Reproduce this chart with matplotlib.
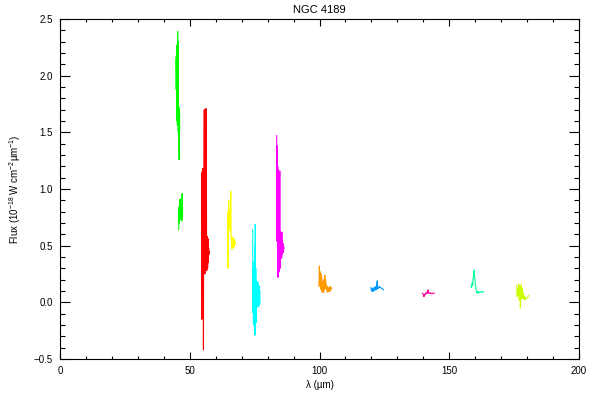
import matplotlib
matplotlib.use("Agg")
import matplotlib.pyplot as plt
from matplotlib.ticker import MultipleLocator

plt.rcParams['font.family'] = ['Liberation Sans', 'DejaVu Sans']
plt.rcParams['mathtext.default'] = 'regular'

# spectral segments (wavelength in micron, flux)
green_a_wl = [44.70, 44.78, 44.86, 44.94, 45.02, 45.10, 45.18, 45.26, 45.34, 45.42,
              45.50, 45.58, 45.66, 45.74, 45.82, 45.90, 45.98, 46.06, 46.14]
green_a_fx = [2.17, 1.88, 2.15, 1.90, 2.27, 1.60, 2.20, 1.56, 2.39, 1.62,
              2.30, 1.50, 1.74, 1.48, 1.72, 1.26, 1.70, 1.52, 1.66]

green_b_wl = [45.75, 45.85, 45.95, 46.05, 46.15, 46.25, 46.35, 46.45, 46.55, 46.65,
              46.75, 46.85, 46.95, 47.05, 47.15, 47.25]
green_b_fx = [0.64, 0.84, 0.70, 0.86, 0.74, 0.91, 0.76, 0.84, 0.73, 0.80,
              0.75, 0.82, 0.72, 0.96, 0.74, 0.82]

red_wl = [54.58, 54.65, 54.72, 54.80, 54.88, 54.96, 55.04, 55.12, 55.20, 55.28,
          55.36, 55.44, 55.52, 55.60, 55.68, 55.76, 55.84, 55.92, 56.00, 56.08,
          56.16, 56.24, 56.32, 56.40, 56.48, 56.56, 56.64, 56.72, 56.80, 56.88,
          56.96, 57.04, 57.12, 57.20, 57.28, 57.36, 57.44, 57.52]
red_fx = [1.14, -0.15, 1.12, 0.05, 1.16, 0.10, 1.18, 0.04, 1.15, -0.42,
          1.10, 0.30, 1.20, 1.70, 0.60, 1.50, 0.25, 1.22, 0.40, 1.40,
          0.50, 1.71, 0.30, 1.22, 0.55, 0.28, 0.52, 0.32, 0.58, 0.30,
          0.50, 0.35, 0.56, 0.40, 0.48, 0.42, 0.45, 0.44]

yellow_wl = [64.60, 64.70, 64.80, 64.90, 65.00, 65.10, 65.20, 65.30, 65.40, 65.50,
             65.60, 65.70, 65.80, 65.90, 66.00, 66.10, 66.20, 66.30, 66.40, 66.50,
             66.60, 66.70, 66.80, 66.90, 67.00, 67.10, 67.20, 67.30, 67.40, 67.50]
yellow_fx = [0.80, 0.30, 0.78, 0.66, 0.90, 0.64, 0.80, 0.66, 0.82, 0.70,
             0.78, 0.62, 0.98, 0.60, 0.56, 0.50, 0.58, 0.47, 0.55, 0.50,
             0.57, 0.48, 0.54, 0.50, 0.56, 0.49, 0.55, 0.51, 0.54, 0.52]

cyan_wl = [74.25, 74.35, 74.45, 74.55, 74.65, 74.75, 74.85, 74.95, 75.05, 75.15,
           75.25, 75.35, 75.45, 75.55, 75.65, 75.75, 75.85, 75.95, 76.05, 76.15,
           76.25, 76.35, 76.45, 76.55, 76.65, 76.75, 76.85, 76.95, 77.05]
cyan_fx = [0.64, -0.09, 0.30, -0.18, 0.34, -0.20, 0.36, -0.25, 0.50, -0.29,
           0.69, -0.10, 0.30, -0.18, 0.20, -0.05, 0.18, -0.04, 0.16, -0.02,
           0.18, -0.03, 0.12, -0.04, 0.15, 0.00, 0.14, -0.02, 0.10]

magenta_wl = [83.50, 83.60, 83.70, 83.80, 83.90, 84.00, 84.10, 84.20, 84.30, 84.40,
              84.50, 84.60, 84.70, 84.80, 84.90, 85.00, 85.10, 85.20, 85.30, 85.40,
              85.50, 85.60, 85.70, 85.80, 85.90, 86.00, 86.10, 86.20, 86.30]
magenta_fx = [1.47, 0.54, 1.38, 0.60, 1.20, 0.22, 1.17, 0.30, 1.15, 0.27,
              1.10, 0.35, 1.16, 0.30, 0.62, 0.40, 0.60, 0.45, 0.58, 0.39,
              0.62, 0.42, 0.55, 0.46, 0.52, 0.44, 0.50, 0.47, 0.48]

orange_wl = [99.80, 99.95, 100.10, 100.25, 100.40, 100.55, 100.70, 100.85, 101.00, 101.15,
             101.30, 101.45, 101.60, 101.75, 101.90, 102.05, 102.20, 102.35, 102.50, 102.65,
             102.80, 102.95, 103.10, 103.25, 103.40, 103.55, 103.70, 103.85, 104.00, 104.15,
             104.30, 104.45, 104.60]
orange_fx = [0.14, 0.32, 0.15, 0.27, 0.12, 0.25, 0.11, 0.22, 0.09, 0.18,
             0.10, 0.13, 0.085, 0.20, 0.11, 0.24, 0.12, 0.20, 0.13, 0.16,
             0.10, 0.14, 0.09, 0.12, 0.10, 0.13, 0.095, 0.12, 0.10, 0.14,
             0.11, 0.13, 0.12]

blue_wl = [119.85, 120.05, 120.25, 120.45, 120.65, 120.85, 121.05, 121.25, 121.45, 121.65,
           121.85, 122.05, 122.25, 122.45, 122.65, 122.85, 123.05, 123.25, 123.45, 123.65,
           123.85, 124.05, 124.25, 124.45, 124.60]
blue_fx = [0.13, 0.10, 0.12, 0.095, 0.125, 0.10, 0.13, 0.105, 0.12, 0.14,
           0.11, 0.16, 0.19, 0.12, 0.125, 0.13, 0.14, 0.135, 0.13, 0.13,
           0.125, 0.12, 0.12, 0.115, 0.11]

pink_wl = [139.65, 139.85, 140.05, 140.25, 140.45, 140.65, 140.85, 141.05, 141.25, 141.45,
           141.65, 141.85, 142.05, 142.25, 142.45, 142.65, 142.85, 143.05, 143.25, 143.45,
           143.65, 143.85, 144.05, 144.25]
pink_fx = [0.08, 0.075, 0.07, 0.05, 0.07, 0.065, 0.08, 0.075, 0.085, 0.09,
           0.08, 0.11, 0.085, 0.08, 0.08, 0.085, 0.078, 0.08, 0.076, 0.08,
           0.078, 0.08, 0.082, 0.08]

spring_wl = [158.40, 158.60, 158.80, 159.00, 159.20, 159.40, 159.60, 159.80, 160.00, 160.20,
             160.40, 160.60, 160.80, 161.00, 161.20, 161.40, 161.60, 161.80, 162.00, 162.20,
             162.40, 162.60, 162.80, 163.00, 163.20]
spring_fx = [0.14, 0.13, 0.17, 0.15, 0.21, 0.24, 0.285, 0.22, 0.18, 0.13,
             0.11, 0.085, 0.09, 0.08, 0.095, 0.085, 0.09, 0.088, 0.092, 0.09,
             0.093, 0.09, 0.095, 0.092, 0.094]

lime_wl = [176.00, 176.20, 176.40, 176.60, 176.80, 177.00, 177.20, 177.40, 177.60, 177.80,
           178.00, 178.20, 178.40, 178.60, 178.80, 179.00, 179.20, 179.40, 179.60, 179.80,
           180.00, 180.20, 180.40, 180.60]
lime_fx = [0.15, 0.05, 0.12, 0.06, 0.16, 0.02, 0.14, -0.05, 0.10, 0.16,
           0.03, 0.12, 0.04, 0.08, 0.03, 0.05, 0.02, 0.04, 0.035, 0.04,
           0.04, 0.045, 0.05, 0.06]

segments = [
    (green_a_wl, green_a_fx, '#00FF00'),
    (green_b_wl, green_b_fx, '#00FF00'),
    (red_wl, red_fx, '#FF0000'),
    (yellow_wl, yellow_fx, '#FFFF00'),
    (cyan_wl, cyan_fx, '#00FFFF'),
    (magenta_wl, magenta_fx, '#FF00FF'),
    (orange_wl, orange_fx, '#FF9900'),
    (blue_wl, blue_fx, '#0099FF'),
    (pink_wl, pink_fx, '#FF0099'),
    (spring_wl, spring_fx, '#00FF99'),
    (lime_wl, lime_fx, '#CCFF00'),
]

fig = plt.figure(figsize=(6, 4), dpi=100)
ax = fig.add_axes([0.1, 0.1025, 0.865, 0.85])

for wl, fx, col in segments:
    ax.plot(wl, fx, color=col, linewidth=0.8)

ax.set_xlim(0, 200)
ax.set_ylim(-0.5, 2.5)
ax.xaxis.set_major_locator(MultipleLocator(50))
ax.xaxis.set_minor_locator(MultipleLocator(10))
ax.yaxis.set_major_locator(MultipleLocator(0.5))
ax.yaxis.set_minor_locator(MultipleLocator(0.1))
ax.yaxis.set_major_formatter(plt.FuncFormatter(lambda v, p: f"{v:.1f}".replace('-', '\u2212')))

ax.tick_params(axis='both', which='both', direction='in', top=True, right=True,
               labelsize=7, width=0.8, pad=5)
ax.tick_params(axis='x', which='major', length=5)
ax.tick_params(axis='x', which='minor', length=2.5)
ax.tick_params(axis='y', which='major', length=7.2)
ax.tick_params(axis='y', which='minor', length=3.6)
for sp in ax.spines.values():
    sp.set_linewidth(0.8)

ax.set_title('NGC 4189', fontsize=8, pad=4)
ax.set_xlabel('\u03bb (\u00b5m)', fontsize=7, labelpad=3)
ax.set_ylabel('Flux (10$^{-18}$ W cm$^{-2}$\u00b5m$^{-1}$)', fontsize=7, labelpad=8)

fig.savefig('out.png', dpi=100)
